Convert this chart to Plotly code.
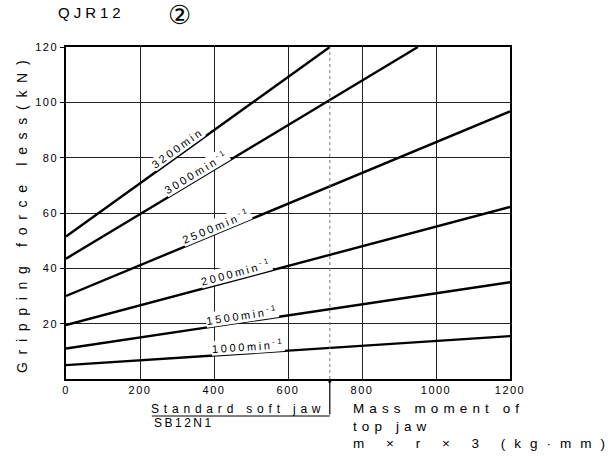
import math
import plotly.graph_objects as go

# Spindle speed curves: gripping force loss vs. mass moment of top jaw
speeds = ["3200", "3000", "2500", "2000", "1500", "1000"]
x_start = [0, 0, 0, 0, 0, 0]
x_end = [713, 951, 1200, 1200, 1200, 1200]
force_start = [51.5, 43.5, 30.0, 19.5, 11.0, 5.0]
force_end = [120.0, 120.0, 96.7, 62.2, 35.0, 15.5]
label_at = [301, 351, 405, 459, 476, 492]
label_text = ["3200min", "3000min<sup>-1</sup>", "2500min<sup>-1</sup>",
              "2000min<sup>-1</sup>", "1500min<sup>-1</sup>", "1000min<sup>-1</sup>"]

x_ticks = [0, 200, 400, 600, 800, 1000, 1200]
y_ticks = [20, 40, 60, 80, 100, 120]
standard_jaw = 713

W, H = 613, 456
M = dict(l=66, r=103, t=47, b=77)
PW = W - M["l"] - M["r"]
PH = H - M["t"] - M["b"]
X_RANGE = [0, 1200]
Y_RANGE = [0, 120]
sx = PW / (X_RANGE[1] - X_RANGE[0])
sy = PH / (Y_RANGE[1] - Y_RANGE[0])

FONT = "Liberation Sans, Arial, sans-serif"


def spaced(text, ls):
    return f'<span style="letter-spacing:{ls}px">{text}</span>'


def px_x(px):
    # page pixel -> paper x (relative to plot area)
    return (px - M["l"]) / PW


def px_y(py):
    # page pixel -> paper y (relative to plot area)
    return (H - M["b"] - py) / PH


fig = go.Figure()

for xs, xe, ys, ye in zip(x_start, x_end, force_start, force_end):
    fig.add_trace(go.Scatter(x=[xs, xe], y=[ys, ye], mode="lines",
                             line=dict(color="black", width=2.4),
                             showlegend=False, hoverinfo="skip"))

# Speed labels laid along each line
for xs, xe, ys, ye, lx, txt in zip(x_start, x_end, force_start, force_end,
                                   label_at, label_text):
    slope = (ye - ys) / (xe - xs)
    ly = ys + slope * (lx - xs)
    ang = -math.degrees(math.atan(slope * sy / sx))
    fig.add_annotation(x=lx, y=ly, text=spaced(txt, 2.6), showarrow=False,
                       textangle=ang, yshift=7.2 / math.cos(math.radians(ang)),
                       bgcolor="white", borderpad=0,
                       font=dict(family=FONT, size=11, color="black"))

# Standard soft jaw marker
fig.add_shape(type="line", xref="x", yref="y", x0=standard_jaw, x1=standard_jaw,
              y0=Y_RANGE[0], y1=Y_RANGE[1],
              line=dict(color="#777", width=1, dash="dot"), layer="above")
fig.add_annotation(x=standard_jaw, y=0, xref="x", yref="y", text="",
                   showarrow=True, ax=0, ay=37, arrowhead=2, arrowsize=0.6,
                   arrowwidth=1.2, arrowcolor="black")
fig.add_shape(type="line", xref="x", yref="paper", x0=232, x1=standard_jaw,
              y0=px_y(416), y1=px_y(416),
              line=dict(color="black", width=1.2))
fig.add_annotation(x=standard_jaw, y=px_y(409), xref="x", yref="paper",
                   xanchor="right", yanchor="middle", xshift=-3,
                   text=spaced("Standard soft jaw", 4.8),
                   showarrow=False, font=dict(family=FONT, size=12, color="black"))
fig.add_annotation(x=232, y=px_y(423), xref="x", yref="paper",
                   xanchor="left", yanchor="middle", text=spaced("SB12N1", 2.5),
                   showarrow=False, font=dict(family=FONT, size=12, color="black"))

# X axis caption (three lines)
caption = "<br>".join([spaced("Mass moment of", 5.1),
                       spaced("top jaw", 5.1),
                       spaced("m × r × 3 (kg·mm)", 9.0)])
fig.add_annotation(x=px_x(351), y=px_y(426), xref="paper", yref="paper",
                   xanchor="left", yanchor="middle", align="left", text=caption,
                   showarrow=False, font=dict(family=FONT, size=13.5, color="black"))

# Y axis caption
fig.add_annotation(x=px_x(22), y=px_y(213), xref="paper", yref="paper",
                   xanchor="center", yanchor="middle",
                   text=spaced("Gripping force less(kN)", 7.7),
                   textangle=-90, showarrow=False,
                   font=dict(family=FONT, size=14, color="black"))

# Circled sheet number next to the model name
fig.add_annotation(x=px_x(179), y=px_y(15), xref="paper", yref="paper",
                   xanchor="center", yanchor="middle", text="②",
                   showarrow=False, font=dict(family="DejaVu Sans", size=26, color="black"))

fig.update_xaxes(range=X_RANGE, tickvals=x_ticks,
                 ticktext=[spaced(str(v), 1.5) for v in x_ticks],
                 showgrid=True, gridcolor="#222", gridwidth=1,
                 showline=True, linecolor="black", linewidth=1.5, mirror=True,
                 ticks="", zeroline=False,
                 tickfont=dict(family=FONT, size=11, color="black"))
fig.update_yaxes(range=Y_RANGE, tickvals=y_ticks,
                 ticktext=[spaced(str(v), 1.5) for v in y_ticks],
                 showgrid=True, gridcolor="#222", gridwidth=1,
                 showline=True, linecolor="black", linewidth=1.5, mirror=True,
                 ticks="outside", ticklen=4, tickcolor="black", zeroline=False,
                 tickfont=dict(family=FONT, size=11, color="black"))

fig.update_layout(width=W, height=H, margin=M, autosize=False,
                  title=dict(text=spaced("QJR12", 4), xref="container", yref="container",
                             x=58 / W, xanchor="left", y=1 - 13 / H, yanchor="middle",
                             font=dict(family=FONT, size=15, color="black")),
                  paper_bgcolor="white", plot_bgcolor="white", showlegend=False)

fig.write_html("out.html")
